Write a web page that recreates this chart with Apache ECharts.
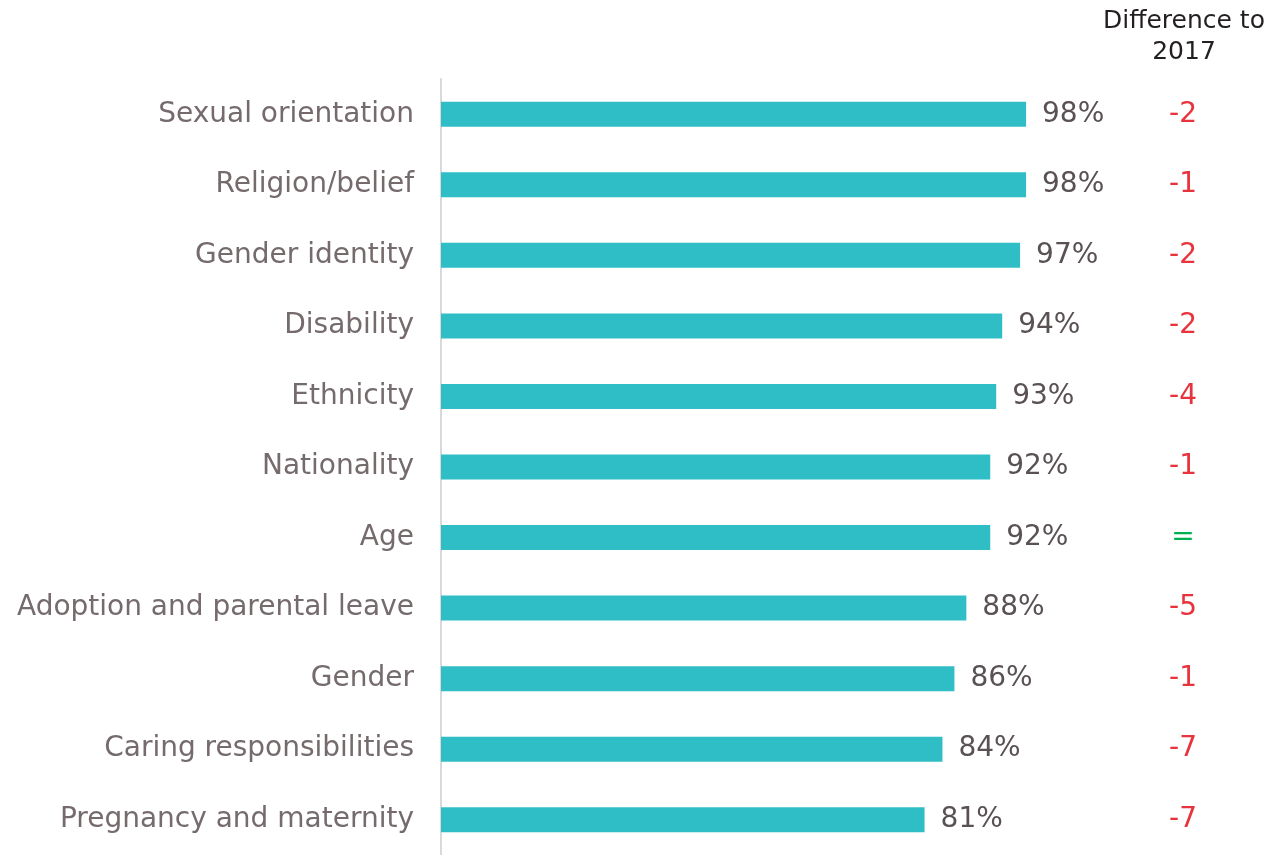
<!DOCTYPE html>
<html>
<head>
<meta charset="utf-8">
<script src="https://cdn.jsdelivr.net/npm/echarts@6/dist/echarts.min.js"></script>
<style>
  html, body { margin: 0; padding: 0; background: #ffffff; }
  #chart { width: 1271px; height: 855px; }
</style>
</head>
<body>
<div id="chart"></div>
<script>
// Categories, top to bottom
const categories = [
  'Sexual orientation', 'Religion/belief', 'Gender identity', 'Disability',
  'Ethnicity', 'Nationality', 'Age', 'Adoption and parental leave',
  'Gender', 'Caring responsibilities', 'Pregnancy and maternity'
];
// Share of respondents (%)
const values = [98, 98, 97, 94, 93, 92, 92, 88, 86, 84, 81];
// Change in percentage points compared with 2017
const diffs = ['-2', '-1', '-2', '-2', '-4', '-1', '=', '-5', '-1', '-7', '-7'];
const diffTitle = 'Difference to\n2017';

const FONT = '"DejaVu Sans", "Open Sans", sans-serif';
const chart = echarts.init(document.getElementById('chart'), null, { renderer: 'canvas' });

chart.setOption({
  animation: false,
  backgroundColor: '#ffffff',
  title: {
    text: diffTitle,
    left: 1179,
    top: 1,
    textAlign: 'center',
    textStyle: {
      fontFamily: FONT, fontSize: 25, fontWeight: 'normal',
      color: '#231f20', lineHeight: 31, align: 'center'
    }
  },
  grid: { left: 441, top: 79, width: 597, height: 782, containLabel: false },
  xAxis: {
    type: 'value', min: 0, max: 100, show: false
  },
  yAxis: [
    {
      type: 'category',
      data: categories,
      inverse: true,
      axisLine: { show: true, lineStyle: { color: '#d9d9d9', width: 2 } },
      axisTick: { show: false },
      axisLabel: {
        margin: 27,
        fontFamily: FONT, fontSize: 28, color: '#756b6c'
      }
    },
    {
      type: 'category',
      data: categories,
      inverse: true,
      position: 'right',
      axisLine: { show: false },
      axisTick: { show: false },
      axisLabel: {
        margin: 145,
        align: 'center',
        formatter: function (v, i) {
          const d = diffs[i];
          return d === '=' ? '{g|=}' : '{r|' + d + '}';
        },
        rich: {
          r: { fontFamily: FONT, fontSize: 28, color: '#e8323c' },
          g: { fontFamily: FONT, fontSize: 28, color: '#00b050' }
        }
      }
    }
  ],
  series: [{
    type: 'bar',
    data: values,
    barWidth: 25,
    itemStyle: { color: '#30bec6' },
    label: {
      show: true,
      position: 'right',
      distance: 16,
      formatter: '{c}%',
      fontFamily: FONT, fontSize: 28, color: '#595152'
    }
  }]
});
</script>
</body>
</html>
